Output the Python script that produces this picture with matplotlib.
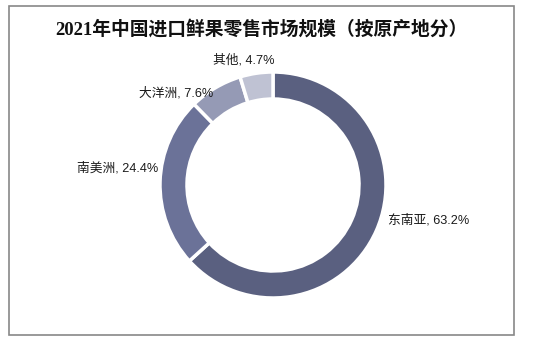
import matplotlib.pyplot as plt
from matplotlib.patches import Rectangle

plt.rcParams['font.family'] = ['Liberation Sans', 'Noto Sans CJK SC', 'DejaVu Sans']

# market share by origin region
regions = ["东南亚", "南美洲", "大洋洲", "其他"]
shares = [63.2, 24.4, 7.6, 4.7]
colors = ["#5a6080", "#6b7298", "#959ab5", "#bfc2d3"]

# label anchor points in pixel space (y measured from top)
label_pos = [(388, 220), (77, 168), (139, 93), (213, 60)]

W, H = 547, 343
fig = plt.figure(figsize=(W / 100, H / 100), dpi=100)
ax = fig.add_axes([0, 0, 1, 1])

cx, cy, r = 273, H - 185, 113
ax.pie(shares, colors=colors, startangle=90, counterclock=False,
       center=(cx, cy), radius=r,
       wedgeprops=dict(width=27, edgecolor="white", linewidth=2.5))

for name, val, (x, y) in zip(regions, shares, label_pos):
    ax.text(x, H - y, f"{name}, {val}%", fontsize=9.2, ha="left", va="center",
            color="#1a1a1a")

ax.text(261, H - 29, "2021年中国进口鲜果零售市场规模（按原产地分）",
        fontsize=13.5, ha="center", va="center", color="#111111",
        fontweight="bold",
        family=['Liberation Serif', 'Noto Sans CJK SC', 'DejaVu Sans'])

# outer frame
ax.add_patch(Rectangle((9, H - 335), 505, 329, fill=False,
                       edgecolor="#888888", linewidth=1.2))

ax.set_xlim(0, W)
ax.set_ylim(0, H)
ax.set_aspect("equal")
ax.axis("off")

fig.savefig("out.png", dpi=100)
